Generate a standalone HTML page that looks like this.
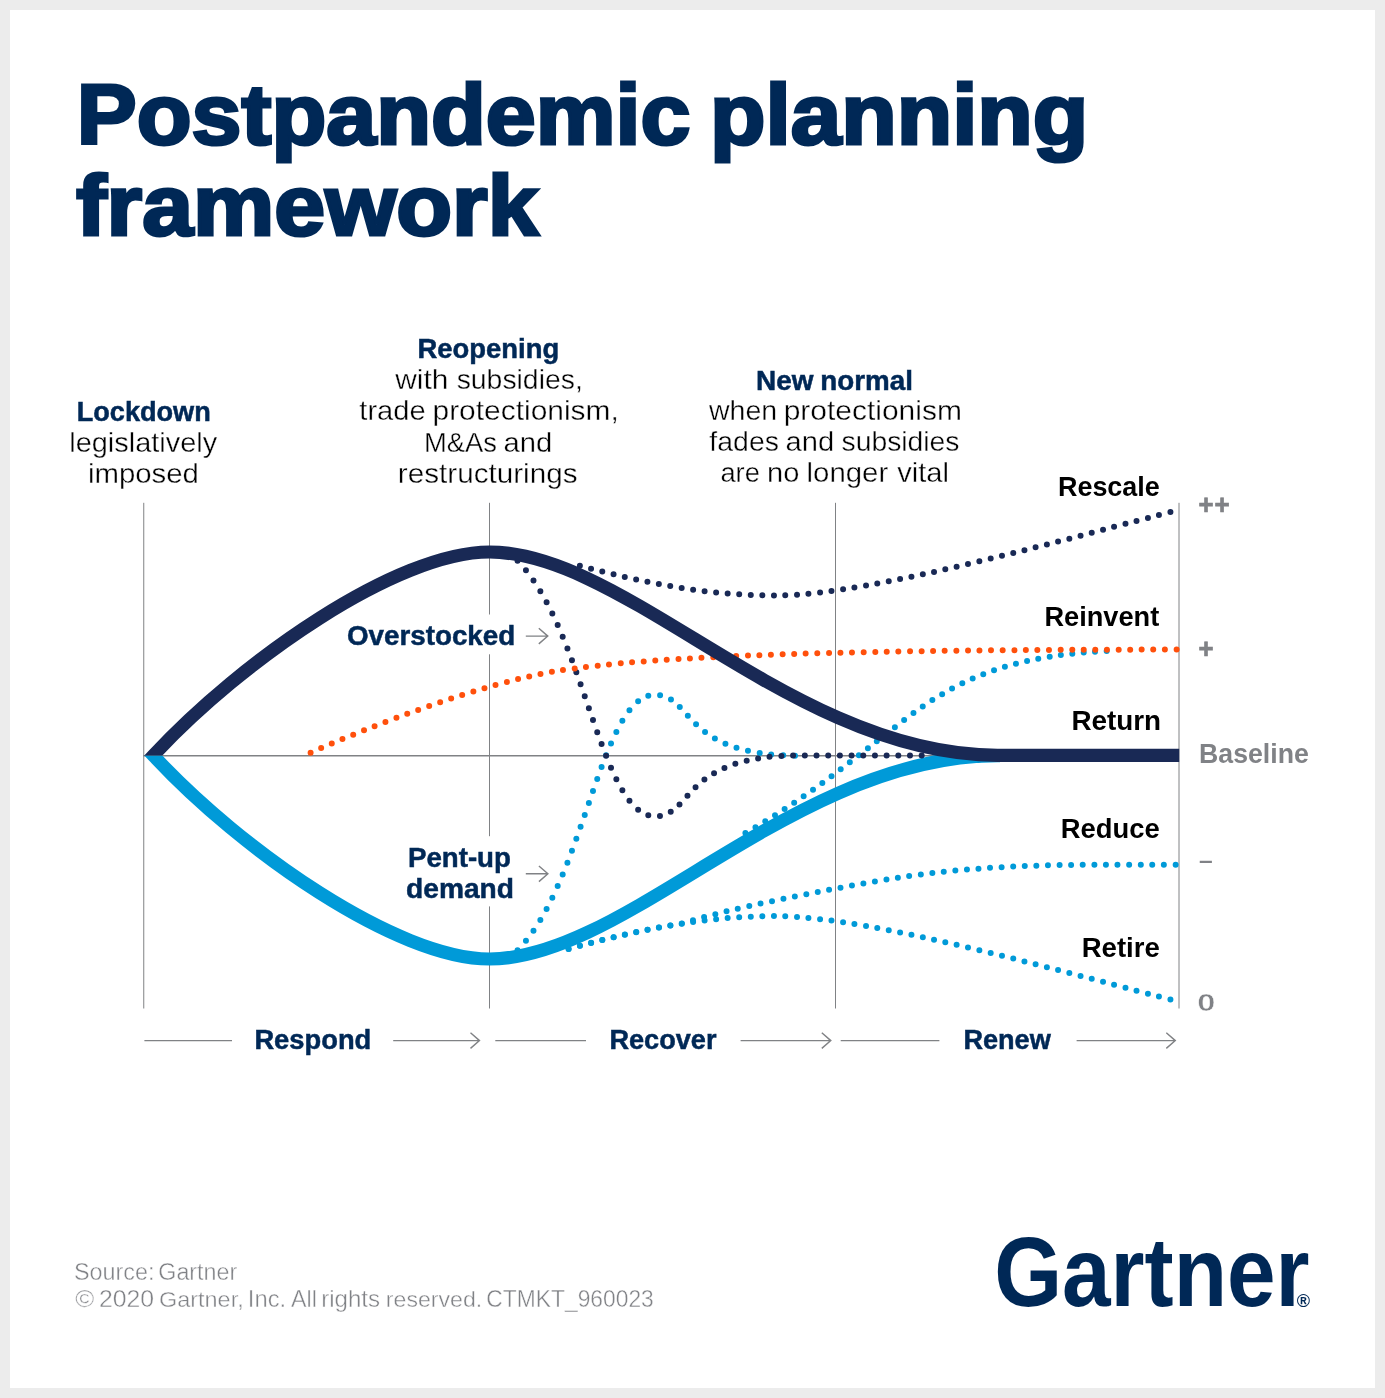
<!DOCTYPE html>
<html lang="en">
<head>
<meta charset="utf-8">
<title>Postpandemic planning framework</title>
<style>
html,body{margin:0;padding:0;background:#ececec}
body{width:1385px;height:1398px;overflow:hidden}
svg{display:block;font-family:"Liberation Sans",sans-serif}
</style>
</head>
<body>
<svg width="1385" height="1398" viewBox="0 0 1385 1398">
<rect width="1385" height="1398" fill="#ececec"/>
<rect x="10" y="10" width="1365" height="1378" fill="#ffffff"/>
<g stroke="#808285" stroke-width="1" fill="none">
<path d="M143.75 502.8V1008.5"/>
<path d="M489.5 502.8V614.5M489.5 654.3V836.2M489.5 906.4V1008.5"/>
<path d="M835.5 502.8V1008.5"/>
<path d="M1179 502.8V1008.5"/>
<path d="M143.3 755.65H1000" stroke-width="1.55"/>
</g>
<clipPath id="cu"><rect x="100" y="500" width="200" height="255.4"/><rect x="300" y="500" width="900" height="520"/></clipPath>
<clipPath id="cl"><rect x="100" y="755.4" width="200" height="300"/><rect x="300" y="500" width="900" height="520"/></clipPath>
<g fill="none" stroke-linecap="round">
<path d="M517.1 950.7 C579.3 888.5 597.5 722.8 643.1 697.9" stroke="#009ad8" stroke-width="6.0" stroke-dasharray="0 12.677" stroke-dashoffset="-0.662"/>
<path d="M643.1 697.9 C646.8 695.9 650.7 694.8 654.9 694.8 C693.6 694.8 680.4 755.7 799.2 755.7" stroke="#009ad8" stroke-width="6.0" stroke-dasharray="0 11.820" stroke-dashoffset="-5.603"/>
<path d="M558.4 951.7 L570.0 948.5 C609.8 937.6 647.0 928.9 683.9 923.3 C723.5 909.4 822.0 890.9 866.6 882.9 C979.9 862.5 1063.8 864.7 1179.0 864.7" stroke="#009ad8" stroke-width="6.0" stroke-dasharray="0 11.615" stroke-dashoffset="-10.588"/>
<path d="M558.4 951.7 L570.0 948.5 C642.6 928.6 706.8 916.1 775.6 916.1 C873.4 916.1 1081.3 977.3 1179.2 1001.7" stroke="#009ad8" stroke-width="6.0" stroke-dasharray="0 11.589" stroke-dashoffset="-10.572"/>
<path d="M745.4 833.0 C806.8 798.0 850.6 761.7 902.2 721.4 C965.6 672.2 1022.1 655.0 1110.0 650.9" stroke="#009ad8" stroke-width="6.0" stroke-dasharray="0 11.472" stroke-dashoffset="-0.000"/>
</g>
<path d="M143.1 744.4 L153.6 755.8 C241.5 850.5 396.8 959.0 489.5 959.0 C627.4 959.0 794.0 755.7 997.5 755.7 L1000 755.7" stroke="#009ad8" stroke-width="13.2" fill="none" clip-path="url(#cl)"/>
<g fill="none" stroke-linecap="round">
<path d="M517.1 560.4 C579.3 622.6 597.5 788.3 643.1 813.2" stroke="#192955" stroke-width="6.0" stroke-dasharray="0 12.677" stroke-dashoffset="-0.662"/>
<path d="M643.1 813.2 C646.8 815.2 650.7 816.3 654.9 816.3 C693.6 816.3 680.4 755.4 799.2 755.4 L925.0 755.4" stroke="#192955" stroke-width="6.0" stroke-dasharray="0 11.683" stroke-dashoffset="-5.603"/>
<path d="M570.0 563.1 C642.6 583.0 706.8 595.5 775.6 595.5 C873.4 595.5 1081.3 534.3 1179.2 509.9" stroke="#192955" stroke-width="6.0" stroke-dasharray="0 11.589" stroke-dashoffset="-10.128"/>
<path d="M310.6 752.7 C371.0 725.7 481.5 683.7 553.5 671.6 C654.8 654.5 866.8 649.6 1179.0 649.6" stroke="#ff500c" stroke-width="6.0" stroke-dasharray="0 11.587" stroke-dashoffset="-0.000"/>
</g>
<path d="M143.1 766.6 L153.6 755.2 C241.5 660.5 396.8 552.0 489.5 552.0 C627.4 552.0 794.0 755.3 997.5 755.3 L1179.2 755.3" stroke="#192955" stroke-width="13.2" fill="none" clip-path="url(#cu)"/>
<path d="M525.8 636.1H547.8M538.8 628.3000000000001L547.8 636.1L538.8 643.9M525.8 873.8H547.9M538.9 866.0L547.9 873.8L538.9 881.5999999999999M144.4 1040.6H232M393.2 1040.6H479.5M470.5 1032.8L479.5 1040.6L470.5 1048.3999999999999M495.3 1040.6H586M740.6 1040.6H830.8M821.8 1032.8L830.8 1040.6L821.8 1048.3999999999999M840.7 1040.6H939.4M1076.6 1040.6H1175.3M1166.3 1032.8L1175.3 1040.6L1166.3 1048.3999999999999" stroke="#808285" stroke-width="1.4" fill="none" stroke-linejoin="miter"/>
<text transform="translate(76.82 144.40) scale(1.0441 1)" font-size="86" font-weight="bold" fill="#002856" stroke="#002856" stroke-width="3.2" stroke-linejoin="miter">Postpandemic </text>
<text transform="translate(709.98 144.40) scale(1.0561 1)" font-size="86" font-weight="bold" fill="#002856" stroke="#002856" stroke-width="3.2" stroke-linejoin="miter">planning</text>
<text transform="translate(76.17 235.20) scale(1.0630 1)" font-size="86" font-weight="bold" fill="#002856" stroke="#002856" stroke-width="3.2" stroke-linejoin="miter">framework</text>
<text transform="translate(76.69 420.90) scale(1.0050 1)" font-size="27" font-weight="bold" fill="#002856" stroke="#002856" stroke-width="0.5" stroke-linejoin="miter">Lockdown</text>
<text transform="translate(69.26 451.50) scale(1.0711 1)" font-size="27" font-weight="normal" fill="#000000" stroke="#fff" stroke-width="0.35" stroke-linejoin="miter">legislatively</text>
<text transform="translate(87.92 482.60) scale(1.0880 1)" font-size="27" font-weight="normal" fill="#000000" stroke="#fff" stroke-width="0.35" stroke-linejoin="miter">imposed</text>
<text transform="translate(417.48 358.00) scale(1.0161 1)" font-size="27" font-weight="bold" fill="#002856" stroke="#002856" stroke-width="0.5" stroke-linejoin="miter">Reopening</text>
<text transform="translate(395.22 389.30) scale(1.1087 1)" font-size="27" font-weight="normal" fill="#000000" stroke="#fff" stroke-width="0.35" stroke-linejoin="miter">with </text>
<text transform="translate(456.65 389.30) scale(1.0506 1)" font-size="27" font-weight="normal" fill="#000000" stroke="#fff" stroke-width="0.35" stroke-linejoin="miter">subsidies,</text>
<text transform="translate(359.36 420.30) scale(1.0778 1)" font-size="27" font-weight="normal" fill="#000000" stroke="#fff" stroke-width="0.35" stroke-linejoin="miter">trade </text>
<text transform="translate(432.48 420.30) scale(1.1089 1)" font-size="27" font-weight="normal" fill="#000000" stroke="#fff" stroke-width="0.35" stroke-linejoin="miter">protectionism,</text>
<text transform="translate(424.02 451.50) scale(1.0138 1)" font-size="27" font-weight="normal" fill="#000000" stroke="#fff" stroke-width="0.35" stroke-linejoin="miter">M&amp;As </text>
<text transform="translate(503.45 451.50) scale(1.0833 1)" font-size="27" font-weight="normal" fill="#000000" stroke="#fff" stroke-width="0.35" stroke-linejoin="miter">and</text>
<text transform="translate(397.80 482.70) scale(1.0997 1)" font-size="27" font-weight="normal" fill="#000000" stroke="#fff" stroke-width="0.35" stroke-linejoin="miter">restructurings</text>
<text transform="translate(756.05 389.60) scale(1.0349 1)" font-size="27" font-weight="bold" fill="#002856" stroke="#002856" stroke-width="0.5" stroke-linejoin="miter">New </text>
<text transform="translate(820.26 389.60) scale(1.0299 1)" font-size="27" font-weight="bold" fill="#002856" stroke="#002856" stroke-width="0.5" stroke-linejoin="miter">normal</text>
<text transform="translate(709.04 420.40) scale(1.0560 1)" font-size="27" font-weight="normal" fill="#000000" stroke="#fff" stroke-width="0.35" stroke-linejoin="miter">when </text>
<text transform="translate(783.68 420.40) scale(1.1100 1)" font-size="27" font-weight="normal" fill="#000000" stroke="#fff" stroke-width="0.35" stroke-linejoin="miter">protectionism</text>
<text transform="translate(709.37 451.40) scale(1.0527 1)" font-size="27" font-weight="normal" fill="#000000" stroke="#fff" stroke-width="0.35" stroke-linejoin="miter">fades </text>
<text transform="translate(785.55 451.40) scale(1.0786 1)" font-size="27" font-weight="normal" fill="#000000" stroke="#fff" stroke-width="0.35" stroke-linejoin="miter">and </text>
<text transform="translate(841.55 451.40) scale(1.0480 1)" font-size="27" font-weight="normal" fill="#000000" stroke="#fff" stroke-width="0.35" stroke-linejoin="miter">subsidies</text>
<text transform="translate(720.44 482.20) scale(1.0110 1)" font-size="27" font-weight="normal" fill="#000000" stroke="#fff" stroke-width="0.35" stroke-linejoin="miter">are </text>
<text transform="translate(767.05 482.20) scale(1.0766 1)" font-size="27" font-weight="normal" fill="#000000" stroke="#fff" stroke-width="0.35" stroke-linejoin="miter">no </text>
<text transform="translate(806.52 482.20) scale(1.0883 1)" font-size="27" font-weight="normal" fill="#000000" stroke="#fff" stroke-width="0.35" stroke-linejoin="miter">longer </text>
<text transform="translate(897.23 482.20) scale(1.0776 1)" font-size="27" font-weight="normal" fill="#000000" stroke="#fff" stroke-width="0.35" stroke-linejoin="miter">vital</text>
<text transform="translate(1057.95 495.60) scale(0.9980 1)" font-size="27" font-weight="bold" fill="#000000">Rescale</text>
<text transform="translate(1044.44 625.70) scale(1.0071 1)" font-size="27" font-weight="bold" fill="#000000">Reinvent</text>
<text transform="translate(1071.39 729.60) scale(1.0316 1)" font-size="27" font-weight="bold" fill="#000000">Return</text>
<text transform="translate(1060.82 838.10) scale(1.0147 1)" font-size="27" font-weight="bold" fill="#000000">Reduce</text>
<text transform="translate(1081.71 957.00) scale(1.0203 1)" font-size="27" font-weight="bold" fill="#000000">Retire</text>
<text transform="translate(1199.07 762.80) scale(0.9880 1)" font-size="27" font-weight="bold" fill="#808286">Baseline</text>
<text transform="translate(347.03 645.40) scale(1.0282 1)" font-size="27" font-weight="bold" fill="#002856" stroke="#002856" stroke-width="0.5" stroke-linejoin="miter">Overstocked</text>
<text transform="translate(407.96 866.50) scale(1.0249 1)" font-size="27" font-weight="bold" fill="#002856" stroke="#002856" stroke-width="0.5" stroke-linejoin="miter">Pent-up</text>
<text transform="translate(406.12 897.60) scale(1.0420 1)" font-size="27" font-weight="bold" fill="#002856" stroke="#002856" stroke-width="0.5" stroke-linejoin="miter">demand</text>
<text transform="translate(254.38 1049.30) scale(1.0124 1)" font-size="27" font-weight="bold" fill="#002856" stroke="#002856" stroke-width="0.5" stroke-linejoin="miter">Respond</text>
<text transform="translate(609.39 1049.30) scale(1.0057 1)" font-size="27" font-weight="bold" fill="#002856" stroke="#002856" stroke-width="0.5" stroke-linejoin="miter">Recover</text>
<text transform="translate(963.39 1049.30) scale(1.0047 1)" font-size="27" font-weight="bold" fill="#002856" stroke="#002856" stroke-width="0.5" stroke-linejoin="miter">Renew</text>
<text transform="translate(73.93 1280.00) scale(1.0165 1)" font-size="23" font-weight="normal" fill="#808286" stroke="#fff" stroke-width="0.4" stroke-linejoin="miter">Source: </text>
<text transform="translate(158.33 1280.00) scale(1.0125 1)" font-size="23" font-weight="normal" fill="#808286" stroke="#fff" stroke-width="0.4" stroke-linejoin="miter">Gartner</text>
<text transform="translate(75.14 1307.20) scale(1.1187 1)" font-size="23" font-weight="normal" fill="#808286" stroke="#fff" stroke-width="0.4" stroke-linejoin="miter">© </text>
<text transform="translate(98.95 1307.20) scale(1.0790 1)" font-size="23" font-weight="normal" fill="#808286" stroke="#fff" stroke-width="0.4" stroke-linejoin="miter">2020 </text>
<text transform="translate(159.03 1307.20) scale(1.0189 1)" font-size="23" font-weight="normal" fill="#808286" stroke="#fff" stroke-width="0.4" stroke-linejoin="miter">Gartner, </text>
<text transform="translate(247.87 1307.20) scale(1.0338 1)" font-size="23" font-weight="normal" fill="#808286" stroke="#fff" stroke-width="0.4" stroke-linejoin="miter">Inc. </text>
<text transform="translate(291.09 1307.20) scale(1.0108 1)" font-size="23" font-weight="normal" fill="#808286" stroke="#fff" stroke-width="0.4" stroke-linejoin="miter">All </text>
<text transform="translate(321.16 1307.20) scale(1.0486 1)" font-size="23" font-weight="normal" fill="#808286" stroke="#fff" stroke-width="0.4" stroke-linejoin="miter">rights </text>
<text transform="translate(385.84 1307.20) scale(1.0049 1)" font-size="23" font-weight="normal" fill="#808286" stroke="#fff" stroke-width="0.4" stroke-linejoin="miter">reserved. </text>
<text transform="translate(486.36 1307.20) scale(0.9925 1)" font-size="23" font-weight="normal" fill="#808286" stroke="#fff" stroke-width="0.4" stroke-linejoin="miter">CTMKT_960023</text>
<text transform="translate(994.17 1305.90) scale(0.8818 1)" font-size="99" font-weight="bold" fill="#002856">Gartner</text>
<text transform="translate(1197.24 1010.88) scale(1.3244 1)" font-size="24.5" font-weight="bold" fill="#808286" stroke="#fff" stroke-width="0.45" stroke-linejoin="miter">0</text>
<text transform="translate(1198.38 513.80) scale(0.9544 1)" font-size="27" font-weight="bold" fill="#808286" stroke="#808286" stroke-width="0.7" stroke-linejoin="miter">+</text>
<text transform="translate(1214.38 513.80) scale(0.9614 1)" font-size="27" font-weight="bold" fill="#808286" stroke="#808286" stroke-width="0.7" stroke-linejoin="miter">+</text>
<text transform="translate(1198.38 657.50) scale(0.9544 1)" font-size="27" font-weight="bold" fill="#808286" stroke="#808286" stroke-width="0.7" stroke-linejoin="miter">+</text>
<text transform="translate(1199.06 868.27) scale(1.1163 1)" font-size="22" font-weight="bold" fill="#808286">–</text>
<text transform="translate(1296.84 1306.50) scale(1.0320 1)" font-size="17.5" font-weight="bold" fill="#002856">®</text>
</svg>
</body>
</html>
